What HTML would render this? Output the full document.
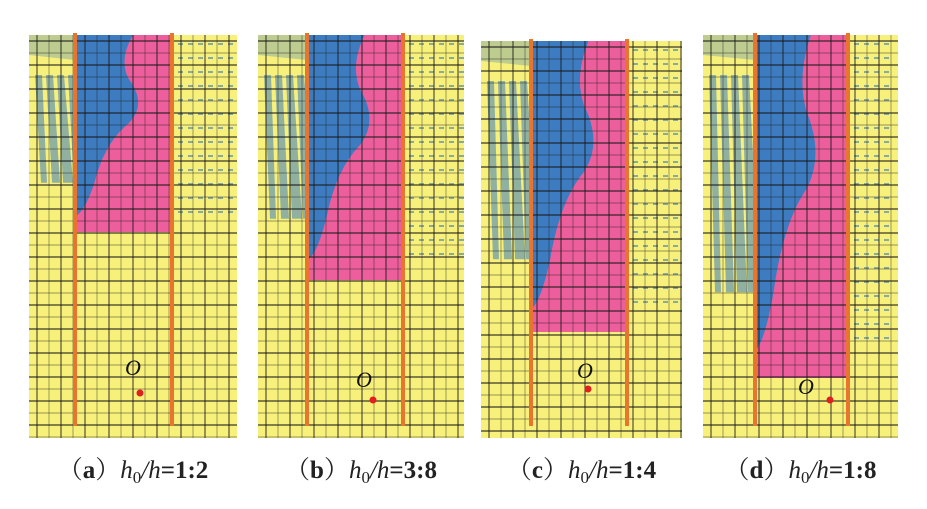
<!DOCTYPE html>
<html><head><meta charset="utf-8"><style>
html,body{margin:0;padding:0;background:#fff;width:927px;height:509px;overflow:hidden}
svg{display:block}
.lab{font-family:"Liberation Serif","Noto Serif CJK SC",serif;font-size:25px;fill:#222}
</style></head><body>
<svg id="s" width="927" height="509" xmlns="http://www.w3.org/2000/svg"></svg>
<script>
const S=document.getElementById('s');
const ns='http://www.w3.org/2000/svg';
function el(t,a,p){const e=document.createElementNS(ns,t);for(const k in a)e.setAttribute(k,a[k]);(p||S).appendChild(e);return e;}
const P=[
 {x0:29,x1:237,y0:35,y1:438,l:75,r:172,pb:232,dx:140,dy:393,ox:133,oy:375,lab:'a',ratio:'1:2'},
 {x0:258,x1:464,y0:35,y1:438,l:307,r:403,pb:280,dx:373,dy:400,ox:364,oy:387,lab:'b',ratio:'3:8'},
 {x0:481,x1:682,y0:41,y1:438,l:531,r:627,pb:332,dx:588,dy:389,ox:585,oy:378,lab:'c',ratio:'1:4'},
 {x0:703,x1:898,y0:35,y1:438,l:755,r:848,pb:378,dx:830,dy:400,ox:806,oy:394,lab:'d',ratio:'1:8'}];
P.forEach((p,i)=>{
 const w=p.x1-p.x0,h=p.y1-p.y0;
 el('rect',{x:p.x0,y:p.y0,width:w,height:h,fill:'#f7f07a'});
 el('rect',{x:p.l,y:p.y0,width:p.r-p.l,height:p.pb-p.y0,fill:'#ec5f9c'});
 const bw=p.r-p.l, bh=p.pb-p.y0, L=p.l, T=p.y0;
 // blue blob
 el('path',{d:`M${L} ${T} L${L+bw*0.6} ${T} Q${L+bw*0.45} ${T+bh*0.12} ${L+bw*0.55} ${T+bh*0.22} Q${L+bw*0.75} ${T+bh*0.35} ${L+bw*0.55} ${T+bh*0.45} Q${L+bw*0.3} ${T+bh*0.55} ${L+bw*0.2} ${T+bh*0.75} Q${L+bw*0.1} ${T+bh*0.9} ${L} ${T+bh*0.92} Z`,fill:'#3d7cc0'});
 // left streaks
 const g2=el('g',{fill:'#3d7cc0',opacity:0.55});
 for(let k=0;k<4;k++){const x=p.x0+6+k*11;el('path',{d:`M${x} ${T+40} L${x+7} ${T+40} L${x+12+k*2} ${T+bh*0.75} L${x+6} ${T+bh*0.75} Z`},g2);}
 el('path',{d:`M${p.x0} ${T} L${L} ${T} L${L} ${T+25} L${p.x0} ${T+20} Z`,fill:'#3d7cc0',opacity:0.3});
 // right faint vectors
 const g3=el('g',{fill:'#3d7cc0',opacity:0.6});
 for(let y=T+8;y<T+bh*0.9;y+=14)for(let x=p.r+6;x<p.x1-4;x+=10)el('rect',{x:x,y:y,width:5,height:2},g3);
 // grid
 const g=el('g',{stroke:'#1a1a1a'});
 let k=0;
 for(let y=T+6;y<p.y1;y+=12,k++) el('line',{x1:p.x0,y1:y,x2:p.x1,y2:y,'stroke-width':k%2?0.6:1.3,opacity:0.85},g);
 k=0;
 for(let x=p.x0+8;x<p.x1;x+=12,k++) el('line',{x1:x,y1:T,x2:x,y2:p.y1,'stroke-width':k%2?0.5:1.1,opacity:0.8},g);
 // piles
 el('rect',{x:p.l-2,y:T-2,width:4,height:h-10,fill:'#e8742e'});
 el('rect',{x:p.r-2,y:T-2,width:4,height:h-10,fill:'#e8742e'});
 el('circle',{cx:p.dx,cy:p.dy,r:3.5,fill:'#e02020'});
 const o=el('text',{x:p.ox-8,y:p.oy,'font-family':'Liberation Serif, serif','font-style':'italic','font-size':22,fill:'#111'});o.textContent='O';
 const t=el('text',{x:(p.x0+p.x1)/2,y:478,'text-anchor':'middle',class:'lab'});
 t.innerHTML=`（<tspan font-weight="bold">${p.lab}</tspan>）<tspan font-style="italic">h</tspan><tspan font-size="17" dy="5">0</tspan><tspan dy="-5" font-style="italic">/h</tspan><tspan font-weight="bold">=${p.ratio}</tspan>`;
});
</script>
</body></html>
